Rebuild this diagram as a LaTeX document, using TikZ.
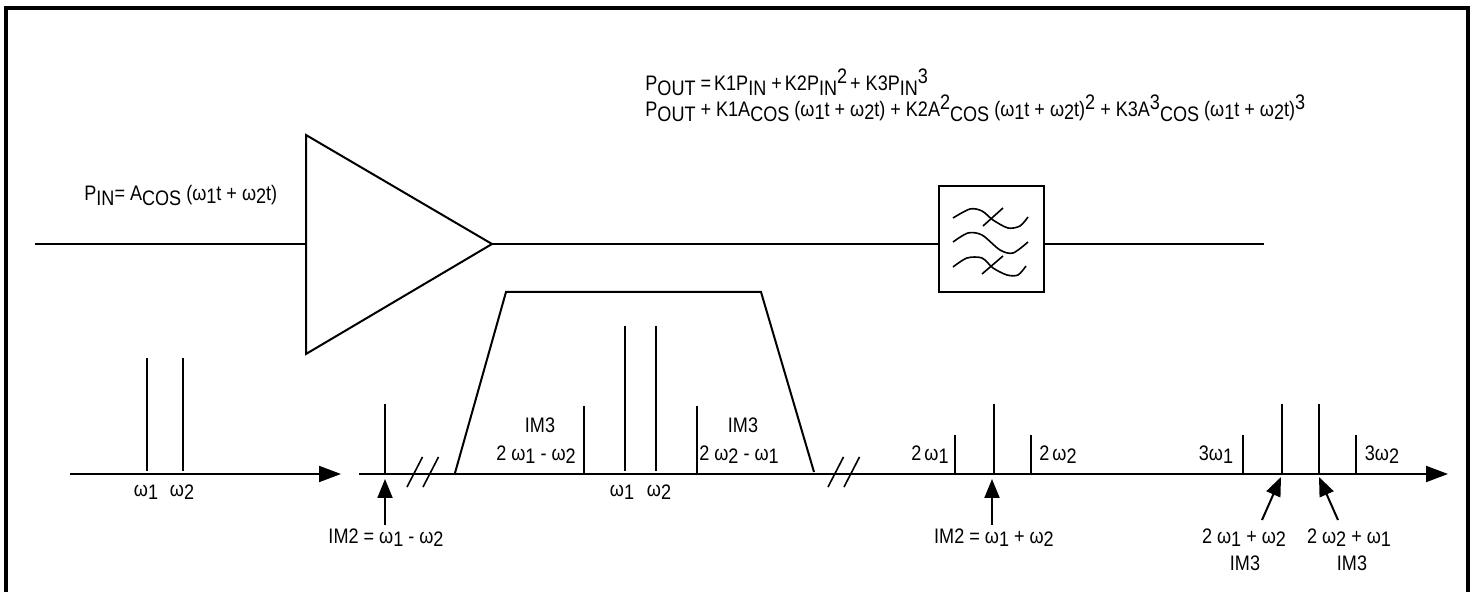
\documentclass[tikz,border=0pt]{standalone}
\usepackage{fontspec}
\setmainfont[FakeStretch=.86]{Liberation Sans}
\usetikzlibrary{arrows.meta}
\newcommand{\wA}{ω\raisebox{-1.5pt}{1}}
\newcommand{\wB}{ω\raisebox{-1.5pt}{2}}
\newcommand{\lowtxt}[1]{\raisebox{-2.5pt}{#1}}
\newcommand{\uptxt}[1]{\raisebox{3.5pt}{#1}}
\tikzset{lbl/.style={inner sep=0pt,font=\fontsize{10.5}{12}\selectfont},
wire/.style={line width=1pt},
axisarr/.style={wire,-{Triangle[length=11pt,width=8pt]}},
markarr/.style={wire,-{Triangle[length=9.5pt,width=7.5pt]}},
thinwire/.style={line width=.8pt}}
\begin{document}
\begin{tikzpicture}[x=.5pt,y=-.5pt]
\useasboundingbox (0,0) rectangle (1474,592);
\draw[line width=2pt] (6,592)--(6,8)--(1468,8)--(1468,592);
% amplifier and filter
\node[lbl,anchor=base west] (pout1) at (645,91) {P\lowtxt{OUT} =\hspace{-1pt} K1P\lowtxt{IN} +\hspace{-1pt} K2P\lowtxt{IN}\uptxt{2}\hspace{-1pt} + K3P\lowtxt{IN}\uptxt{3}};
\node[lbl,anchor=base west] (pout2) at (645,117) {P\lowtxt{OUT} + K1A\lowtxt{COS} (\wA t + \wB t) + K2A\uptxt{2}\lowtxt{COS} (\wA t + \wB t)\uptxt{2} + K3A\uptxt{3}\lowtxt{COS} (\wA t + \wB t)\uptxt{3}};
\node[lbl,anchor=base west] (pin) at (84,201) {P\lowtxt{IN}= A\lowtxt{COS} (\wA t + \wB t)};
\coordinate (inL) at (35,244); \coordinate (ampIn) at (306,244); \coordinate (ampOut) at (492,244);
\coordinate (outR) at (1264,244);
\draw[wire] (306,135)--(306,354)--(ampOut)--cycle;
\node[draw,line width=1pt,minimum width=52.5pt,minimum height=53pt,inner sep=0pt] (filter) at (991.5,239) {};
\draw[wire] (inL)--(ampIn); \draw[wire] (ampOut)--(filter.west |- ampOut); \draw[wire] (filter.east |- ampOut)--(outR);
\draw[thinwire] plot[smooth] coordinates {(953,218) (970,209) (982,211) (993,220) (1008,228) (1020,226) (1028,217)};
\draw[thinwire] (983,226)--(1003,208);
\draw[thinwire] plot[smooth] coordinates {(953,242) (968,233) (982,235) (1000,250) (1013,253) (1028,242)};
\draw[thinwire] plot[smooth] coordinates {(953,267) (967,258) (982,258) (993,268) (1007,275) (1018,275) (1026,266)};
\draw[thinwire] (982,274)--(1003,256);
% input spectrum
\coordinate (axA) at (70,474); \coordinate (axAend) at (341,474);
\draw[axisarr] (axA)--(axAend);
\foreach \nm/\xx in {inA/147,inB/183}{
\coordinate (\nm top) at (\xx,358); \coordinate (\nm foot) at (\xx,471);
\draw[wire] (\nm top)--(\nm foot);}
\node[lbl] (wA) at (146,492) {\wA};
\node[lbl] (wB) at (182,492) {\wB};
% output spectrum
\coordinate (axB) at (359,474); \coordinate (axBend) at (1448,474);
\draw[axisarr] (axB)--(axBend);
\foreach \nm/\xx/\yy in {imA/385/404,lowC/584/406,lowD/697/406,secA/955/435,midC/994/404,secB/1031/435,thrA/1243/435,hiC/1282/404,hiD/1319/404,thrB/1356/435}{
\coordinate (\nm top) at (\xx,\yy); \coordinate (\nm foot) at (\xx,474);
\draw[wire] (\nm top)--(\nm foot);}
\foreach \nm/\xx in {toneA/625,toneB/656}{
\coordinate (\nm top) at (\xx,326); \coordinate (\nm foot) at (\xx,471);
\draw[wire] (\nm top)--(\nm foot);}
% passband
\draw[wire] (455,473)--(506,292)--(761,292)--(814,472);
% axis breaks
\foreach \xa in {407,423,828,844}{
\coordinate (brkL) at (\xa,487); \coordinate (brkR) at (\xa+15.5,457);
\draw[thinwire] (brkL)--(brkR);}
\node[lbl] (imL) at (540,425) {IM3};
\node[lbl] (imR) at (743,425) {IM3};
\node[lbl] (fL) at (536,455) {2 \wA\ - \wB};
\node[lbl] (fR) at (739,455) {2 \wB\ - \wA};
\node[lbl] (toneAl) at (622,492) {\wA};
\node[lbl] (toneBl) at (659,492) {\wB};
\node[lbl] (sA) at (930,455) {2\hspace{1.5pt}\wA};
\node[lbl] (sB) at (1058,455) {2\hspace{1.5pt}\wB};
\node[lbl] (tA) at (1216,455) {3\wA};
\node[lbl] (tB) at (1382,455) {3\wB};
\node[lbl] (imLow) at (386,538) {IM2 = \wA\ - \wB};
\node[lbl] (imMid) at (994,538) {IM2 = \wA\ + \wB};
\node[lbl] (sumA) at (1244,538) {2 \wA\ + \wB};
\node[lbl] (sumB) at (1349,538) {2 \wB\ + \wA};
\node[lbl] (imA) at (1245,563) {IM3};
\node[lbl] (imB) at (1352,563) {IM3};
\coordinate (lowTail) at (385,525); \coordinate (lowTip) at (385,479);
\coordinate (midTail) at (992,525); \coordinate (midTip) at (992,479);
\coordinate (sumAtail) at (1262,520); \coordinate (sumAtip) at (1281,477);
\coordinate (sumBtail) at (1338,520); \coordinate (sumBtip) at (1319,477);
\draw[markarr] (lowTail)--(lowTip); \draw[markarr] (midTail)--(midTip);
\draw[markarr] (sumAtail)--(sumAtip); \draw[markarr] (sumBtail)--(sumBtip);
\end{tikzpicture}
\end{document}
